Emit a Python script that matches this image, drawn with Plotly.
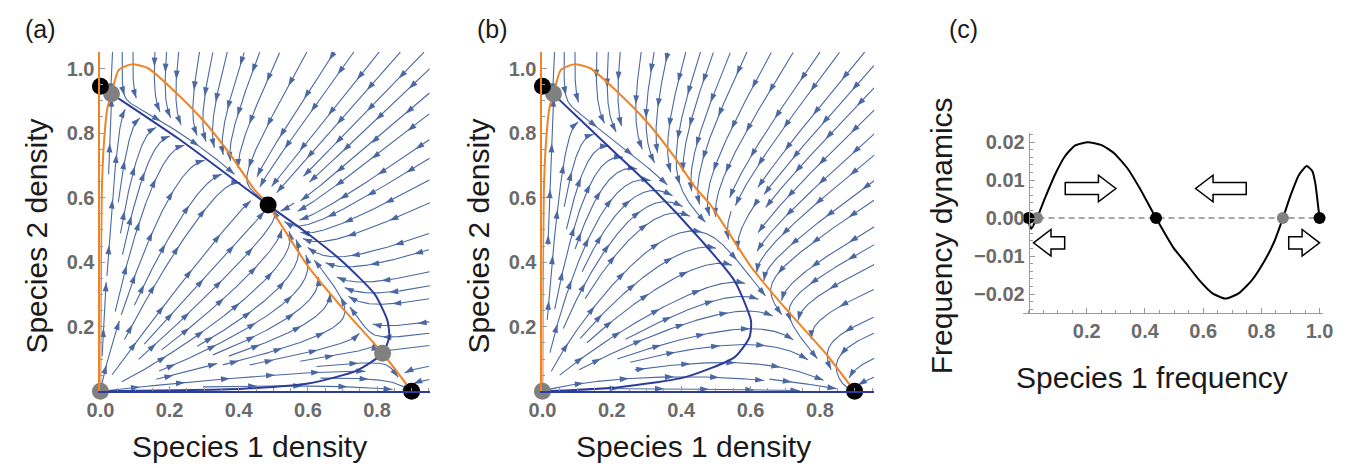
import math
import numpy as np
import plotly.graph_objects as go

W, H = 1352, 468

# ---------------- data ----------------
# species-1 nullcline (orange), panels (a) and (b)
orange_x = [0.0, 0.001, 0.004, 0.0105, 0.020, 0.032, 0.053, 0.091, 0.138, 0.205, 0.300, 0.375, 0.441, 0.485, 0.603, 0.698, 0.816, 0.900]
orange_y = [0.0, 0.300, 0.620, 0.775, 0.877, 0.922, 0.996, 1.013, 1.001, 0.939, 0.836, 0.734, 0.631, 0.577, 0.383, 0.260, 0.118, 0.000]

# species-2 nullcline (blue), panel (a)
blue_a_x = [0.0, 0.032, 0.224, 0.485, 0.603, 0.698, 0.793, 0.830, 0.835, 0.816, 0.743, 0.601, 0.412, 0.222, 0.0]
blue_a_y = [0.945, 0.922, 0.784, 0.577, 0.486, 0.404, 0.301, 0.219, 0.168, 0.118, 0.065, 0.024, 0.008, 0.003, 0.0]

# species-2 nullcline (blue), panel (b)
blue_b_x = [0.0, 0.032, 0.052, 0.175, 0.317, 0.459, 0.554, 0.601, 0.597, 0.554, 0.412, 0.222, 0.0]
blue_b_y = [0.945, 0.922, 0.900, 0.774, 0.630, 0.466, 0.342, 0.219, 0.168, 0.106, 0.044, 0.013, 0.0]

# equilibria
eq_a_stable_x = [0.0, 0.485, 0.900]
eq_a_stable_y = [0.945, 0.577, 0.0]
eq_a_unstable_x = [0.0, 0.032, 0.816]
eq_a_unstable_y = [0.0, 0.922, 0.118]
eq_b_stable_x = [0.0, 0.900]
eq_b_stable_y = [0.945, 0.0]
eq_b_unstable_x = [0.0, 0.032]
eq_b_unstable_y = [0.0, 0.922]

# panel (c): frequency dynamics
freq_p = [0.0, 0.004, 0.009, 0.017, 0.029, 0.057, 0.091, 0.125, 0.159, 0.204, 0.249, 0.294, 0.339, 0.384, 0.438,
          0.497, 0.542, 0.587, 0.632, 0.677, 0.722, 0.767, 0.812, 0.846, 0.874, 0.902, 0.930, 0.956, 0.975,
          0.986, 0.993, 1.0]
freq_f = [0.0, -0.0022, -0.0028, -0.0018, 0.0, 0.0054, 0.0115, 0.0163, 0.0191, 0.0200, 0.0193, 0.0171, 0.0132, 0.0076, 0.0,
          -0.0077, -0.0120, -0.0164, -0.0198, -0.0212, -0.0198, -0.0164, -0.0111, -0.0059, 0.0, 0.0063, 0.0115, 0.0137, 0.0124,
          0.0089, 0.0045, 0.0]
freq_stable_p = [0.0, 0.438, 1.0]
freq_unstable_p = [0.029, 0.874]

# block arrows in (c): tail, tip, centre height
arr_tail = [0.126, 0.748, 0.124, 0.894]
arr_tip = [0.300, 0.574, 0.017, 1.000]
arr_mid = [0.0078, 0.0078, -0.0065, -0.0065]

x_ticks_ab = [0.0, 0.2, 0.4, 0.6, 0.8]
y_ticks_ab = [0.2, 0.4, 0.6, 0.8, 1.0]
x_ticks_c = [0.2, 0.4, 0.6, 0.8, 1.0]
y_ticks_c = [-0.02, -0.01, 0.0, 0.01, 0.02]
y_ticktext_c = ["\u22120.02", "\u22120.01", "0.00", "0.01", "0.02"]

# ---------------- colours / layout ----------------
STREAM = "#4a68a2"
BLUE = "#2b3c9c"
ORANGE = "#ee8426"
GRAY = "#808080"
TICK = "#6b6b6b"
FONT = "Liberation Sans, Arial, sans-serif"

XR_A, XR_B, YR = 0.953, 0.957, 1.052
DOM_A = [88 / W, 423.5 / W]
DOM_B = [538 / W, 876 / W]
DOM_Y = [1 - 391 / H, 1 - 50 / H]


def nullcline_tables(ox, oy, bx, by):
    p = [0.0]
    n1 = [0.0]
    for x, y in zip(ox, oy):
        if x + y > 0:
            p.append(x / (x + y))
            n1.append(x + y)
    q = [0.0]
    n2 = [0.0]
    for x, y in reversed(list(zip(bx, by))):
        if x + y > 0:
            q.append(y / (x + y))
            n2.append(x + y)
    return np.array(p), np.array(n1), np.array(q), np.array(n2)


def streamlines(tables, xr, yr, sx, sy, d_sep=11, d_test=5, lmax=160, h=1.0, head_gap=46):
    P1, N1, Q2, N2 = tables
    Wp, Hp = xr * sx, yr * sy
    occ_t = np.zeros((int(Hp) + 2, int(Wp) + 2), bool)
    occ_s = np.zeros_like(occ_t)

    def vel(X, Y):
        x, y = X / sx, Y / sy
        n = x + y
        if n <= 1e-9:
            return None
        p = x / n
        h1 = np.interp(p, P1, N1)
        h2 = np.interp(1 - p, Q2, N2)
        u, v = x * (h1 - n), y * (h2 - n)
        if math.hypot(u, v) < 1e-5:
            return None
        u, v = u * sx, v * sy
        m = math.hypot(u, v)
        return u / m, v / m

    def integrate(X, Y, sgn):
        pts = []
        L = 0.0
        prev = None
        while L < lmax:
            d = vel(X, Y)
            if d is None:
                break
            mX, mY = X + 0.5 * h * d[0] * sgn, Y + 0.5 * h * d[1] * sgn
            d2 = vel(mX, mY)
            if d2 is None:
                break
            if prev is not None and d2[0] * prev[0] + d2[1] * prev[1] < 0.5:
                break
            nX, nY = X + h * d2[0] * sgn, Y + h * d2[1] * sgn
            if nX < 0 or nY < 0 or nX > Wp or nY > Hp:
                break
            if occ_t[int(nY), int(nX)]:
                break
            pts.append((nX, nY))
            X, Y = nX, nY
            prev = d2
            L += h
        return pts

    lines = []
    for spacing in (4 * d_sep, 2 * d_sep, d_sep, d_sep / 2):
        Y = Hp - spacing / 2
        while Y > 0:
            X = spacing / 2
            while X < Wp:
                if not occ_s[int(Y), int(X)]:
                    back = integrate(X, Y, -1)
                    fwd = integrate(X, Y, 1)
                    line = list(reversed(back)) + [(X, Y)] + fwd
                    if len(line) * h >= 16:
                        lines.append(line)
                        for (a, b) in line:
                            xi, yi = int(a), int(b)
                            occ_t[max(0, yi - d_test):yi + d_test + 1, max(0, xi - d_test):xi + d_test + 1] = True
                            occ_s[max(0, yi - d_sep + 1):yi + d_sep, max(0, xi - d_sep + 1):xi + d_sep] = True
                X += spacing
            Y -= spacing

    lx, ly, hx, hy, ha = [], [], [], [], []
    step = int(head_gap / h)
    for line in lines:
        for (a, b) in line:
            lx.append(a / sx)
            ly.append(b / sy)
        lx.append(None)
        ly.append(None)
        i = len(line) - 1
        while i >= 10:
            a0, b0 = line[i - 4]
            a1, b1 = line[i]
            hx.append(a1 / sx)
            hy.append(b1 / sy)
            ha.append(math.degrees(math.atan2(a1 - a0, b1 - b0)))
            i -= step
    return lx, ly, hx, hy, ha


fig = go.Figure()


def add_phase(col, ox, oy, bx, by, sx_, sy_, xr, stx, sty, ux, uy):
    xa, ya = ("x", "y") if col == 1 else ("x2", "y2")
    tabs = nullcline_tables(ox, oy, bx, by)
    lx, ly, hx, hy, ha = streamlines(tabs, xr, YR, sx_, sy_)
    fig.add_trace(go.Scatter(x=lx, y=ly, mode="lines", line=dict(color=STREAM, width=1.1),
                             xaxis=xa, yaxis=ya, hoverinfo="skip", showlegend=False))
    fig.add_trace(go.Scatter(x=hx, y=hy, mode="markers",
                             marker=dict(symbol="arrow", size=9.5, angle=ha, color=STREAM,
                                         line=dict(width=0)),
                             xaxis=xa, yaxis=ya, hoverinfo="skip", showlegend=False))
    fig.add_trace(go.Scatter(x=ox, y=oy, mode="lines", line=dict(color=ORANGE, width=2, shape="spline", smoothing=0.6),
                             xaxis=xa, yaxis=ya, showlegend=False))
    fig.add_trace(go.Scatter(x=bx, y=by, mode="lines", line=dict(color=BLUE, width=2, shape="spline", smoothing=0.6),
                             xaxis=xa, yaxis=ya, showlegend=False))
    fig.add_trace(go.Scatter(x=ux, y=uy, mode="markers", marker=dict(size=17, color=GRAY),
                             cliponaxis=False, xaxis=xa, yaxis=ya, showlegend=False))
    fig.add_trace(go.Scatter(x=stx, y=sty, mode="markers", marker=dict(size=17, color="black"),
                             cliponaxis=False, xaxis=xa, yaxis=ya, showlegend=False))


sy_ab = (391 - 50) / YR
add_phase(1, orange_x, orange_y, blue_a_x, blue_a_y, (423.5 - 88) / XR_A, sy_ab, XR_A,
          eq_a_stable_x, eq_a_stable_y, eq_a_unstable_x, eq_a_unstable_y)
add_phase(2, orange_x, orange_y, blue_b_x, blue_b_y, (876 - 538) / XR_B, sy_ab, XR_B,
          eq_b_stable_x, eq_b_stable_y, eq_b_unstable_x, eq_b_unstable_y)

# panel (c)
fig.add_trace(go.Scatter(x=[freq_p[0], freq_p[-1]], y=[0, 0], mode="lines",
                         line=dict(color="#8c8c8c", width=1.5, dash="6px,4px"),
                         xaxis="x3", yaxis="y3", showlegend=False))
fig.add_trace(go.Scatter(x=freq_p, y=freq_f, mode="lines", line=dict(color="black", width=2, shape="spline", smoothing=0.5),
                         xaxis="x3", yaxis="y3", showlegend=False))
fig.add_trace(go.Scatter(x=freq_unstable_p, y=[0] * len(freq_unstable_p), mode="markers",
                         marker=dict(size=12, color=GRAY), cliponaxis=False,
                         xaxis="x3", yaxis="y3", showlegend=False))
fig.add_trace(go.Scatter(x=freq_stable_p, y=[0] * len(freq_stable_p), mode="markers",
                         marker=dict(size=12, color="black"), cliponaxis=False,
                         xaxis="x3", yaxis="y3", showlegend=False))

HEAD_L, SHAFT_H, HEAD_H = 0.06, 0.0016, 0.0035
for t, tip, c in zip(arr_tail, arr_tip, arr_mid):
    sgn = 1 if tip > t else -1
    base = tip - sgn * HEAD_L
    path = (f"M{t},{c - SHAFT_H} L{base},{c - SHAFT_H} L{base},{c - HEAD_H} L{tip},{c} "
            f"L{base},{c + HEAD_H} L{base},{c + SHAFT_H} L{t},{c + SHAFT_H} Z")
    fig.add_shape(type="path", path=path, xref="x3", yref="y3",
                  line=dict(color="black", width=1.5), fillcolor="white")

tickfont = dict(family=FONT, size=20, color=TICK, weight="bold")


def ab_axes(dom, xr, xanchor, yanchor):
    xa = dict(domain=dom, range=[0, xr], anchor=yanchor, showgrid=False, zeroline=False,
              showline=True, linecolor=BLUE, linewidth=2, ticks="inside", ticklen=5, tickcolor="#999999",
              tickvals=x_ticks_ab, ticktext=[f"{v:.1f}" for v in x_ticks_ab], tickfont=tickfont,
              minor=dict(dtick=0.05, tick0=0, ticks="inside", ticklen=3, tickcolor="#999999"))
    ya = dict(domain=DOM_Y, range=[0, YR], anchor=xanchor, showgrid=False, zeroline=False,
              showline=True, linecolor=ORANGE, linewidth=2, ticks="inside", ticklen=5, tickcolor="#999999",
              tickvals=y_ticks_ab, ticktext=[f"{v:.1f}" for v in y_ticks_ab], tickfont=tickfont,
              minor=dict(dtick=0.05, tick0=0, ticks="inside", ticklen=3, tickcolor="#999999"))
    return xa, ya


xa1, ya1 = ab_axes(DOM_A, XR_A, "x", "y")
xa2, ya2 = ab_axes(DOM_B, XR_B, "x2", "y2")

xa3 = dict(domain=[1027 / W, 1333 / W], range=[-0.02, 1.013], anchor="y3", showgrid=False, zeroline=False,
           showline=True, linecolor="#9a9a9a", linewidth=1, ticks="inside", ticklen=5, tickcolor="#9a9a9a",
           tickvals=x_ticks_c, ticktext=[f"{v:.1f}" for v in x_ticks_c], tickfont=tickfont,
           minor=dict(dtick=0.05, tick0=0, ticks="inside", ticklen=3, tickcolor="#9a9a9a"))
ya3 = dict(domain=[1 - 312 / H, 1 - 132 / H], range=[-0.0249, 0.0223], anchor="free", position=1033 / W,
           showgrid=False, zeroline=False, showline=True, linecolor="#9a9a9a", linewidth=1,
           ticks="inside", ticklen=5, tickcolor="#9a9a9a", tickvals=y_ticks_c, ticktext=y_ticktext_c,
           tickfont=tickfont,
           minor=dict(dtick=0.002, tick0=0, ticks="inside", ticklen=3, tickcolor="#9a9a9a"))

title_font = dict(family=FONT, size=30, color="#1a1a1a")
ann = []
for txt, cx, cy, ang in [("Species 1 density", 240, 446, 0), ("Species 1 density", 692, 446, 0),
                         ("Species 2 density", 23, 235, -90), ("Species 2 density", 473, 235, -90),
                         ("Frequency dynamics", 945, 235, -90), ("Species 1 frequency", 1159, 377, 0)]:
    ann.append(dict(text=txt, x=cx / W, y=1 - cy / H, xref="paper", yref="paper", showarrow=False,
                    xanchor="center", yanchor="middle", textangle=ang, font=title_font))
for txt, cx in [("(a)", 27), ("(b)", 487), ("(c)", 967)]:
    ann.append(dict(text=txt, x=cx / W, y=1 - 27 / H, xref="paper", yref="paper", showarrow=False,
                    xanchor="center", yanchor="middle", font=dict(family=FONT, size=25, color="#1a1a1a")))

fig.update_layout(width=W, height=H, margin=dict(l=0, r=0, t=0, b=0), paper_bgcolor="white",
                  plot_bgcolor="white", showlegend=False,
                  xaxis=xa1, yaxis=ya1, xaxis2=xa2, yaxis2=ya2, xaxis3=xa3, yaxis3=ya3,
                  annotations=ann)
fig.write_html("out.html")
